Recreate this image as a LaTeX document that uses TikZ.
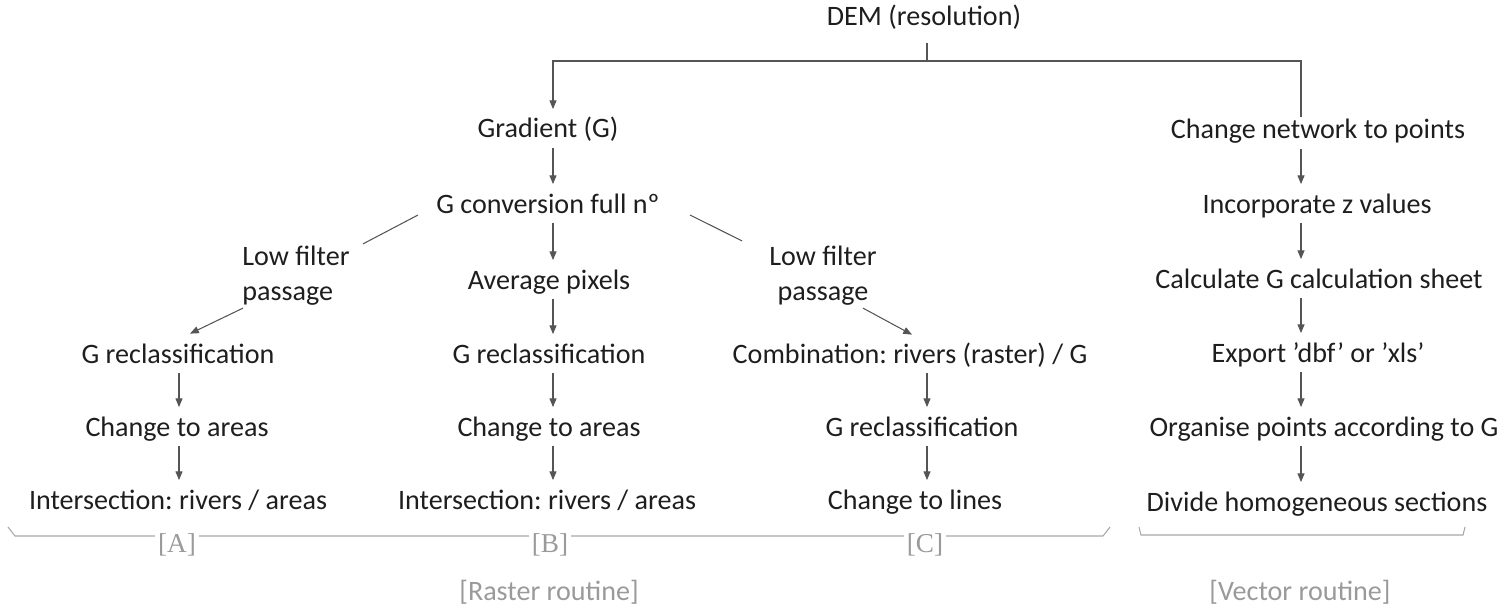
\documentclass[tikz,border=0pt]{standalone}
\usepackage{fontspec}
\setmainfont{Carlito}
\newfontfamily\tagfont{Liberation Serif}
\usetikzlibrary{arrows.meta}
\definecolor{ink}{HTML}{1E1E1E}
\definecolor{rule}{HTML}{555555}
\definecolor{pale}{HTML}{A8A8A8}
\definecolor{tagcol}{HTML}{9A9A9A}
\frenchspacing
\begin{document}
\begin{tikzpicture}[x=0.02cm,y=-0.02cm]
\tikzstyle{txt} = [inner sep=0, text height=0.36cm, text depth=0.12cm, text=ink,
                   font=\fontsize{16}{20}\selectfont]
\tikzstyle{lbl} = [inner sep=0, text=ink, font=\fontsize{16}{20}\selectfont]
\tikzstyle{tag} = [inner xsep=1.5, inner ysep=0, fill=white, text=tagcol,
                   font=\tagfont\fontsize{15.5}{17}\selectfont]
\tikzstyle{routine} = [inner sep=0, text=tagcol, font=\fontsize{16}{20}\selectfont]
\tikzstyle{ln} = [draw=rule, line width=0.6pt]
\tikzstyle{arr} = [ln, -{Triangle[length=5pt,width=4pt]}, shorten >=6pt, shorten <=2pt]
\tikzstyle{darr} = [ln, -{Triangle[length=5pt,width=4pt]}]
\tikzstyle{brace} = [draw=pale, line width=0.6pt]
\useasboundingbox (0,0) rectangle (1511,608);
% top
\node [txt] (dem) at (924,20) {DEM (resolution)};
\coordinate (split) at (927,61);
% raster routine
\node [txt] (grad) at (548,132) {Gradient (G)};
\node [txt] (conv) at (548,207) {G conversion full nº};
\node [lbl, align=left] (lowA) at (296,276) {Low filter\\passage};
\node [txt] (avg) at (549,283) {Average pixels};
\node [lbl, align=center] (lowC) at (823,276) {Low filter\\passage};
\node [txt] (grA) at (178,357) {G reclassification};
\node [txt] (caA) at (177,430) {Change to areas};
\node [txt] (isA) at (178,503) {Intersection: rivers / areas};
\node [txt] (grB) at (549,357) {G reclassification};
\node [txt] (caB) at (549,430) {Change to areas};
\node [txt] (isB) at (547,503) {Intersection: rivers / areas};
\node [txt] (comb) at (910,357) {Combination: rivers (raster) / G};
\node [txt] (grC) at (922,430) {G reclassification};
\node [txt] (clC) at (915,503) {Change to lines};
% vector routine
\node [txt] (vnet) at (1318,133) {Change network to points};
\node [txt] (vinc) at (1317,207) {Incorporate z values};
\node [txt] (vcalc) at (1319,282) {Calculate G calculation sheet};
\node [txt] (vexp) at (1318,356) {Export ’dbf’ or ’xls’};
\node [txt] (vorg) at (1324,430) {Organise points according to G};
\node [txt] (vdiv) at (1317,505) {Divide homogeneous sections};
% arrow columns
\coordinate (ax) at (179,0);
\coordinate (bx) at (553,0);
\coordinate (cx) at (927,0);
\coordinate (vx) at (1301,0);
% connectors
\draw [ln, shorten <=6pt] (dem.south -| split) -- (split);
\draw [arr, shorten <=0pt] (split) -| (grad.north -| bx);
\draw [ln, shorten >=2pt] (split) -| (vnet.north -| vx);
\draw [arr] (grad.south -| bx) -- (conv.north -| bx);
\draw [arr] (conv.south -| bx) -- (avg.north -| bx);
\draw [arr] (avg.south -| bx) -- (grB.north -| bx);
\draw [arr] (grB.south -| bx) -- (caB.north -| bx);
\draw [arr] (caB.south -| bx) -- (isB.north -| bx);
\draw [ln] ([shift={(-18,8)}]conv.west) -- ([shift={(13,-2)}]lowA.north east);
\draw [darr] ([shift={(1,2)}]lowA.south west) -- ([shift={(12,-11)}]grA.north);
\draw [arr] (grA.south -| ax) -- (caA.north -| ax);
\draw [arr] (caA.south -| ax) -- (isA.north -| ax);
\draw [ln] ([shift={(30,8)}]conv.east) -- ([shift={(-27,-5)}]lowC.north west);
\draw [darr] ([shift={(-14,2)}]lowC.south east) -- ([shift={(2,-10)}]comb.north);
\draw [arr] (comb.south -| cx) -- (grC.north -| cx);
\draw [arr] (grC.south -| cx) -- (clC.north -| cx);
\draw [arr] (vnet.south -| vx) -- (vinc.north -| vx);
\draw [arr] (vinc.south -| vx) -- (vcalc.north -| vx);
\draw [arr] (vcalc.south -| vx) -- (vexp.north -| vx);
\draw [arr] (vexp.south -| vx) -- (vorg.north -| vx);
\draw [arr] (vorg.south -| vx) -- (vdiv.north -| vx);
% braces
\draw [brace] (8,527) -- (15,536) -- (1103,536) -- (1110,527);
\draw [brace] (1139,527) -- (1141,535) -- (1463,535) -- (1465,527);
\node [tag] (tA) at (177,545) {[A]};
\node [tag] (tB) at (550,545) {[B]};
\node [tag] (tC) at (925,545) {[C]};
\node [routine] (raster) at (549,592) {[Raster routine]};
\node [routine] (vector) at (1300,592) {[Vector routine]};
\end{tikzpicture}
\end{document}
